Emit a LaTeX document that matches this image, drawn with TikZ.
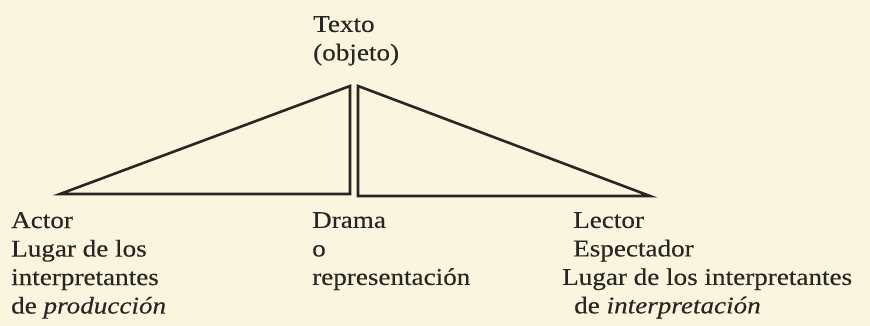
\documentclass[tikz,border=0pt]{standalone}
\usepackage{fontspec}
\setmainfont{Liberation Serif}[FakeStretch=1.13, FakeBold=0.3]
\definecolor{papel}{RGB}{249,245,222}
\definecolor{tinta}{RGB}{40,38,34}
\begin{document}
\begin{tikzpicture}[x=1pt, y=-1pt,
  linea/.style={draw=tinta, line width=2.6pt, line join=miter},
  rotulo/.style={anchor=north west, inner sep=0pt, align=left, text=tinta,
    font=\fontsize{24}{28.5}\selectfont}]
\fill[papel] (0,0) rectangle (870,326);
\useasboundingbox (0,0) rectangle (870,326);
\node[rotulo] (texto) at (313,16) {Texto\\(objeto)};
\node[rotulo] (actor) at (11,212) {Actor\\Lugar de los\\interpretantes\\de \emph{producción}};
\node[rotulo] (drama) at (312,212) {Drama\\o\\representación};
\node[rotulo] (lector) at (562,212) {\hspace*{11pt}Lector\\\hspace*{11pt}Espectador\\Lugar de los interpretantes\\\hspace*{12pt}de \emph{interpretación}};
\coordinate (esqA) at (60,194);
\coordinate (cimaA) at (350,86);
\coordinate (pieA) at (350,194);
\coordinate (cimaB) at (358,86);
\coordinate (esqB) at (650,196);
\coordinate (pieB) at (358,196);
\draw[linea] (esqA) -- (cimaA) -- (pieA) -- cycle;
\draw[linea] (cimaB) -- (esqB) -- (pieB) -- cycle;
\end{tikzpicture}
\end{document}
